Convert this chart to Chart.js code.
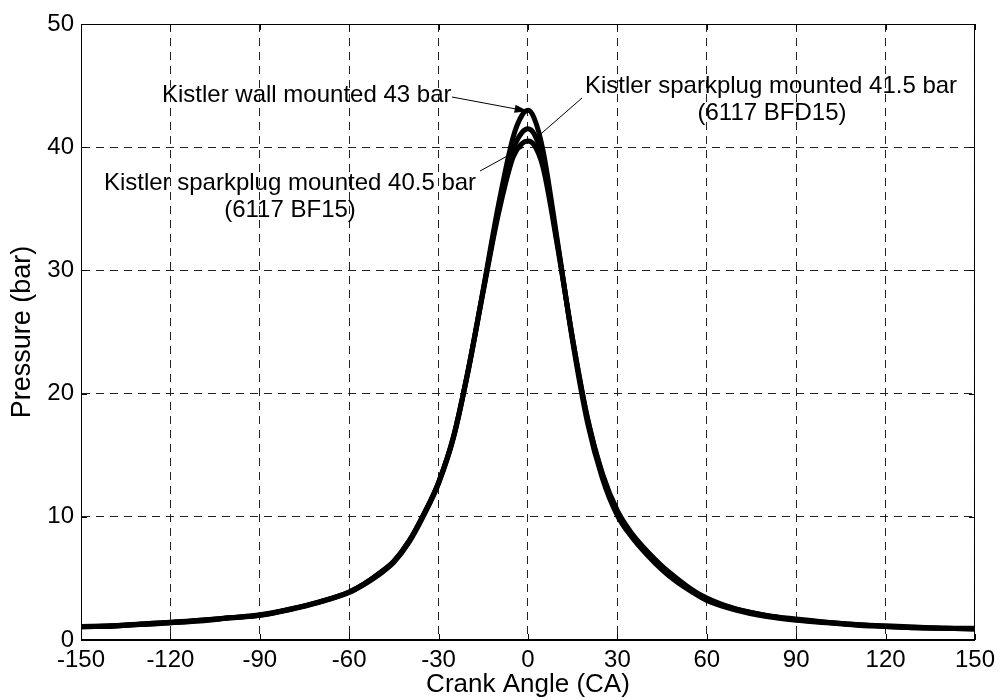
<!DOCTYPE html>
<html>
<head>
<meta charset="utf-8">
<script src="https://cdn.jsdelivr.net/npm/chart.js@4/dist/chart.umd.min.js"></script>
<style>
	body { margin: 0; background: #fff; }
</style>
</head>
<body>
<canvas id="myChart" width="1001" height="700"></canvas>
<script>
// crank angle (deg) shared by the three traces
const angles = [-150, -140, -130, -120, -110, -100, -90, -80, -70, -60, -55, -50, -45, -40, -35, -30, -25, -20, -15, -10, -5, -2, 0, 2, 5, 10, 15, 20, 25, 30, 35, 40, 45, 50, 55, 60, 70, 80, 90, 100, 110, 120, 130, 140, 150];

// pressure (bar)
const wallMounted = [1.1, 1.15, 1.3, 1.4, 1.6, 1.8, 2.0, 2.5, 3.1, 3.9, 4.55, 5.4, 6.4, 8.0, 10.2, 12.8, 16.5, 22.0, 28.5, 35.2, 40.8, 42.6, 43.0, 42.4, 39.8, 32.2, 24.2, 17.6, 13.1, 10.1, 8.3, 6.9, 5.7, 4.7, 3.9, 3.2, 2.4, 1.9, 1.6, 1.4, 1.2, 1.1, 1.0, 0.95, 0.95];
const sparkBFD15 = [1.05, 1.15, 1.25, 1.4, 1.55, 1.8, 2.05, 2.5, 3.1, 3.9, 4.55, 5.4, 6.4, 8.0, 10.2, 12.8, 16.5, 22.0, 28.4, 34.8, 39.8, 41.2, 41.5, 41.1, 39.0, 32.0, 24.4, 18.0, 13.5, 10.5, 8.6, 7.2, 6.0, 5.0, 4.1, 3.4, 2.5, 2.0, 1.7, 1.45, 1.25, 1.1, 1.0, 0.95, 0.9];
const sparkBF15 = [1.1, 1.1, 1.3, 1.45, 1.6, 1.8, 2.0, 2.45, 3.05, 3.85, 4.5, 5.3, 6.3, 7.9, 10.1, 12.7, 16.4, 21.9, 28.3, 34.5, 39.2, 40.3, 40.5, 40.2, 38.4, 31.8, 24.4, 17.9, 13.4, 10.4, 8.5, 7.1, 5.9, 4.9, 4.0, 3.3, 2.5, 2.0, 1.65, 1.45, 1.25, 1.15, 1.05, 0.95, 0.9];

const xTicks = [-150, -120, -90, -60, -30, 0, 30, 60, 90, 120, 150];
const yTicks = [0, 10, 20, 30, 40, 50];

const FONT = "'Liberation Sans', Arial, sans-serif";

function toPoints(values) {
	return angles.map((a, i) => ({ x: a, y: values[i] }));
}

function trace(label, values) {
	return {
		label: label,
		data: toPoints(values),
		borderColor: "#000",
		borderWidth: 5,
		pointRadius: 0,
		cubicInterpolationMode: "monotone",
		fill: false,
	};
}

// frame, inside tick marks and the three text labels with their leader lines
const extras = {
	id: "extras",
	afterDraw(chart) {
		const ctx = chart.ctx;
		const a = chart.chartArea;
		const xs = chart.scales.x;
		const ys = chart.scales.y;
		ctx.save();
		ctx.strokeStyle = "#000";
		ctx.lineWidth = 1;
		ctx.setLineDash([]);
		ctx.strokeRect(a.left + 0.5, a.top + 0.5, a.right - a.left - 1, a.bottom - a.top - 1);

		ctx.beginPath();
		xTicks.forEach((t) => {
			const px = Math.round(xs.getPixelForValue(t)) + 0.5;
			ctx.moveTo(px, a.bottom); ctx.lineTo(px, a.bottom - 6);
			ctx.moveTo(px, a.top); ctx.lineTo(px, a.top + 6);
		});
		yTicks.forEach((t) => {
			const py = Math.round(ys.getPixelForValue(t)) + 0.5;
			ctx.moveTo(a.left, py); ctx.lineTo(a.left + 6, py);
			ctx.moveTo(a.right, py); ctx.lineTo(a.right - 6, py);
		});
		ctx.stroke();

		ctx.fillStyle = "#000";
		ctx.font = "24px " + FONT;
		ctx.textBaseline = "alphabetic";

		// wall mounted, with arrow to its peak
		ctx.textAlign = "left";
		ctx.fillText("Kistler wall mounted 43 bar", 162, 102);
		const tx = xs.getPixelForValue(0);
		const ty = ys.getPixelForValue(43) + 1;
		const sx = 452, sy = 97;
		ctx.beginPath();
		ctx.moveTo(sx, sy);
		ctx.lineTo(tx, ty);
		ctx.stroke();
		const ang = Math.atan2(ty - sy, tx - sx);
		ctx.beginPath();
		ctx.moveTo(tx, ty);
		ctx.lineTo(tx - 14 * Math.cos(ang - 0.3), ty - 14 * Math.sin(ang - 0.3));
		ctx.lineTo(tx - 14 * Math.cos(ang + 0.3), ty - 14 * Math.sin(ang + 0.3));
		ctx.closePath();
		ctx.fill();

		// sparkplug 41.5
		ctx.textAlign = "center";
		ctx.fillText("Kistler sparkplug mounted 41.5 bar", 771, 93);
		ctx.fillText("(6117 BFD15)", 772, 120);
		ctx.beginPath();
		ctx.moveTo(582, 98);
		ctx.lineTo(xs.getPixelForValue(3), ys.getPixelForValue(40.8));
		ctx.stroke();

		// sparkplug 40.5
		ctx.fillText("Kistler sparkplug mounted 40.5 bar", 290, 190);
		ctx.fillText("(6117 BF15)", 290, 217);
		ctx.beginPath();
		ctx.moveTo(480, 171);
		ctx.lineTo(xs.getPixelForValue(-1.5), ys.getPixelForValue(40.0));
		ctx.stroke();
		ctx.restore();
	},
};

const ctx = document.querySelector("#myChart").getContext("2d");
const chart = new Chart(ctx, {
	type: "line",
	data: {
		datasets: [
			trace("Kistler wall mounted", wallMounted),
			trace("Kistler sparkplug BFD15", sparkBFD15),
			trace("Kistler sparkplug BF15", sparkBF15),
		],
	},
	options: {
		responsive: false,
		animation: false,
		layout: { padding: { left: 0, top: 24, right: 26, bottom: 0 } },
		plugins: { legend: { display: false }, tooltip: { enabled: false } },
		scales: {
			x: {
				type: "linear",
				min: -150,
				max: 150,
				afterBuildTicks: (s) => { s.ticks = xTicks.map((v) => ({ value: v })); },
				afterFit: (s) => { s.height = 60; },
				grid: { color: "#222", lineWidth: 1, drawTicks: false },
				border: { display: true, color: "#000", dash: [8, 6] },
				ticks: { color: "#000", font: { family: FONT, size: 24 }, padding: 6, maxRotation: 0 },
				title: { display: true, text: "Crank Angle (CA)", color: "#000", font: { family: FONT, size: 26, lineHeight: 1.1 }, padding: { top: 0, bottom: 1 } },
			},
			y: {
				min: 0,
				max: 50,
				afterBuildTicks: (s) => { s.ticks = yTicks.map((v) => ({ value: v })); },
				afterFit: (s) => { s.width = 81; },
				grid: { color: "#222", lineWidth: 1, drawTicks: false },
				border: { display: true, color: "#000", dash: [8, 6] },
				ticks: { color: "#000", font: { family: FONT, size: 24 }, padding: 7 },
				title: { display: true, text: "Pressure (bar)", color: "#000", font: { family: FONT, size: 27, lineHeight: 1.1 }, padding: { top: 8, bottom: 0 } },
			},
		},
	},
	plugins: [extras],
});
</script>
</body>
</html>
